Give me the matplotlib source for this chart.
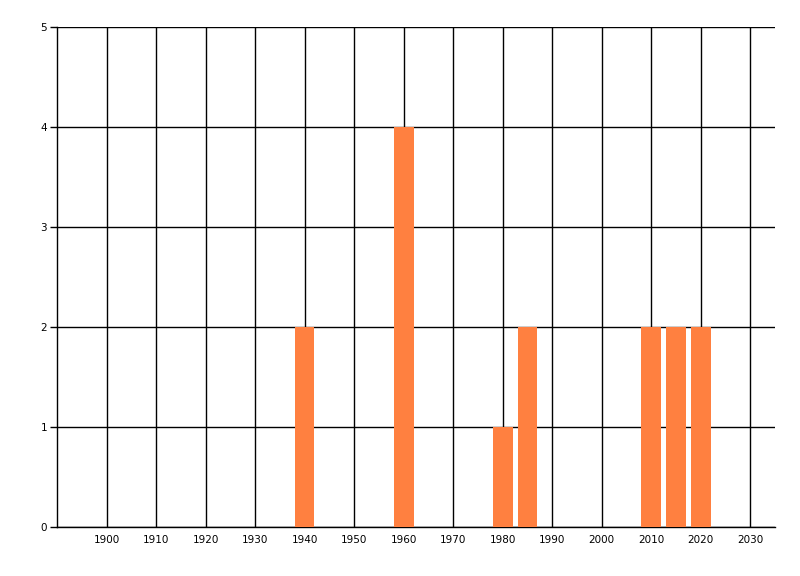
import matplotlib
matplotlib.use("Agg")
import matplotlib.pyplot as plt
import numpy as np

years = [1940, 1960, 1980, 1985, 2010, 2015, 2020]
counts = [2, 4, 1, 2, 2, 2, 2]
xticks = list(range(1900, 2031, 10))
yticks = [0, 1, 2, 3, 4, 5]

fig = plt.figure(figsize=(8, 5.76), dpi=100)
ax = fig.add_axes([0.07125, 0.0851, 0.8975, 0.868])

ax.bar(years, counts, width=4, color="#FF8040", zorder=3)

ax.set_xlim(1890, 2035)
ax.set_ylim(0, 5)
ax.set_xticks(xticks)
ax.set_yticks(yticks)
ax.grid(True, color="black", linewidth=1, zorder=1)
ax.set_axisbelow(True)

for s in ["top", "right"]:
    ax.spines[s].set_visible(False)
ax.spines["left"].set_linewidth(1)
ax.spines["bottom"].set_linewidth(1)

ax.tick_params(axis="x", length=0, pad=6, labelsize=7.5)
ax.tick_params(axis="y", length=5, width=1, pad=2, labelsize=7.5)

fig.savefig("out.png", dpi=100)
